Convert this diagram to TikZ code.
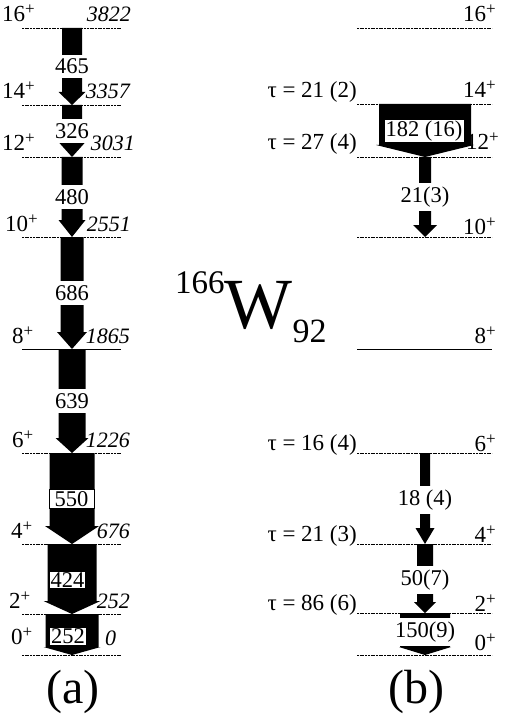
\documentclass[tikz,border=0pt]{standalone}
\usepackage{fontspec}
\setmainfont{Liberation Serif}
\usetikzlibrary{calc}

\newcommand{\plus}{\raisebox{7pt}{\fontsize{17}{17}\selectfont+}}

\tikzset{
  level/.style={line width=0.8pt,dash pattern=on 2pt off 0.7pt},
  solidlevel/.style={line width=0.8pt},
  txt/.style={font=\fontsize{23}{26}\selectfont,inner sep=0pt},
  energy/.style={txt,font=\fontsize{22}{25}\selectfont\itshape},
  tlabel/.style={txt,font=\fontsize{22.5}{25}\selectfont,fill=white,inner xsep=2pt,inner ysep=4pt},
  tbox/.style={txt,font=\fontsize{22.5}{25}\selectfont,fill=white,draw,line width=0.8pt,inner xsep=1.5pt,inner ysep=1.2pt}
}

% fat arrow: from, to, shaft half width, head half width, head length
\newcommand{\fatarrow}[5]{%
  \fill ($(#1)+(-#3,0)$) -- ($(#1)+(#3,0)$) -- ($(#2)+(#3,-#5)$) -- ($(#2)+(#4,-#5)$)
    -- (#2) -- ($(#2)+(-#4,-#5)$) -- ($(#2)+(-#3,-#5)$) -- cycle;}

\begin{document}
\begin{tikzpicture}[x=1pt,y=-1pt]
\useasboundingbox (0,0) rectangle (508,722);

% left scheme (a)
\coordinate (a16) at (72,28);
\coordinate (a14) at (72,105);
\coordinate (a12) at (72,157);
\coordinate (a10) at (72,237);
\coordinate (a8) at (72,349);
\coordinate (a6) at (72,453);
\coordinate (a4) at (72,544);
\coordinate (a2) at (72,614);
\coordinate (a0) at (72,655);

\draw[level] (22,28) -- (121,28);
\draw[level] (22,105) -- (121,105);
\draw[level] (22,157) -- (121,157);
\draw[level] (22,237) -- (121,237);
\draw[solidlevel] (22,349) -- (121,349);
\draw[level] (22,453) -- (121,453);
\draw[level] (22,544) -- (121,544);
\draw[level] (22,614) -- (121,614);
\draw[level] (22,655) -- (121,655);

\node(s16a)[txt,anchor=base west] at (2,22){16\plus};
\node(s14a)[txt,anchor=base west] at (2,99){14\plus};
\node(s12a)[txt,anchor=base west] at (2,151){12\plus};
\node(s10a)[txt,anchor=base west] at (5,231){10\plus};
\node(s8a)[txt,anchor=base west] at (12,343){8\plus};
\node(s6a)[txt,anchor=base west] at (12,447){6\plus};
\node(s4a)[txt,anchor=base west] at (11,538){4\plus};
\node(s2a)[txt,anchor=base west] at (9,608){2\plus};
\node(s0a)[txt,anchor=base west] at (11,644){0\plus};

\node(e16)[energy,anchor=base east] at (131,22){3822};
\node(e14)[energy,anchor=base east] at (130,99){3357};
\node(e12)[energy,anchor=base east] at (135,151){3031};
\node(e10)[energy,anchor=base east] at (131,231){2551};
\node(e8)[energy,anchor=base east] at (130,343){1865};
\node(e6)[energy,anchor=base east] at (130,447){1226};
\node(e4)[energy,anchor=base east] at (130,538){676};
\node(e2)[energy,anchor=base east] at (130,608){252};
\node(e0)[energy,anchor=base west] at (105,645){0};

\fatarrow{a16}{a14}{10}{13.5}{13}
\fatarrow{a14}{a12}{10}{13.5}{15}
\fatarrow{a12}{a10}{10.5}{13.5}{17}
\fatarrow{a10}{a8}{11.5}{15}{17}
\fatarrow{a8}{a6}{13.5}{16.5}{15}
\fatarrow{a6}{a4}{22.5}{27}{18}
\fatarrow{a4}{a2}{24.5}{28.5}{13}
\fatarrow{a2}{a0}{26.5}{28.5}{8}

\node(g465)[tlabel] at ($(a16)!.5!(a14)$){465};
\node(g326)[tlabel] at ($(a14)!.5!(a12)$){326};
\node(g480)[tlabel] at ($(a12)!.5!(a10)$){480};
\node(g686)[tlabel] at ($(a10)!.5!(a8)$){686};
\node(g639)[tlabel] at ($(a8)!.5!(a6)$){639};
\node(g550)[tbox,minimum width=45pt,inner ysep=2pt] at (71.5,499){550};
\node(g424)[tbox] at (67.5,580){424};
\node(g252)[tbox] at (68,636.5){252};

% right scheme (b)
\coordinate (b14) at (425,104);
\coordinate (b12) at (425,157);
\coordinate (b10) at (425,237);
\coordinate (b6) at (425,453);
\coordinate (b4) at (425,544);
\coordinate (b2) at (425,613);
\coordinate (b0) at (425,655);

\draw[level] (357,28) -- (492,28);
\draw[level] (357,104) -- (492,104);
\draw[level] (357,157) -- (492,157);
\draw[level] (357,237) -- (492,237);
\draw[solidlevel] (357,349) -- (492,349);
\draw[level] (357,453) -- (492,453);
\draw[level] (357,544) -- (492,544);
\draw[level] (357,613) -- (492,613);
\draw[level] (357,655) -- (492,655);

\node(s16b)[txt,anchor=base east] at (496,22){16\plus};
\node(s14b)[txt,anchor=base east] at (496,98){14\plus};
\node(s12b)[txt,anchor=base east] at (499,150){12\plus};
\node(s10b)[txt,anchor=base east] at (496,234){10\plus};
\node(s8b)[txt,anchor=base east] at (496,343){8\plus};
\node(s6b)[txt,anchor=base east] at (496,451){6\plus};
\node(s4b)[txt,anchor=base east] at (496,542){4\plus};
\node(s2b)[txt,anchor=base east] at (496,611){2\plus};
\node(s0b)[txt,anchor=base east] at (496,650){0\plus};

\node(tau14)[txt,anchor=base east] at (357,98){τ = 21 (2)};
\node(tau12)[txt,anchor=base east] at (357,150){τ = 27 (4)};
\node(tau6)[txt,anchor=base east] at (357,450){τ = 16 (4)};
\node(tau4)[txt,anchor=base east] at (357,541){τ = 21 (3)};
\node(tau2)[txt,anchor=base east] at (357,610){τ = 86 (6)};

\fatarrow{b14}{b12}{46}{49}{12}
\fatarrow{b12}{b10}{6}{12}{12}
\fatarrow{b6}{b4}{5}{9.5}{16}
\fatarrow{b4}{b2}{8}{11}{11}
\fatarrow{b2}{b0}{25}{26}{8}

\node(b182)[tbox] at (424,131){182 (16)};
\node(b21)[tlabel] at ($(b12)!.5!(b10)$){21(3)};
\node(b18)[tlabel] at (425,500){18 (4)};
\node(b50)[tlabel] at (425,580){50(7)};
\node(b150)[tlabel] at (425,632){150(9)};

% nucleus
\node(nucl)[inner sep=0pt,anchor=base west] at (175,328){%
  \fontsize{33}{33}\selectfont\raisebox{35pt}{166}%
  \fontsize{72}{72}\selectfont W%
  \fontsize{34}{34}\selectfont\raisebox{-14pt}{92}};

\node(capa)[font=\fontsize{48}{50}\selectfont,inner sep=0pt] at (73,692){(a)};
\node(capb)[font=\fontsize{48}{50}\selectfont,inner sep=0pt] at (416,692){(b)};
\end{tikzpicture}
\end{document}
